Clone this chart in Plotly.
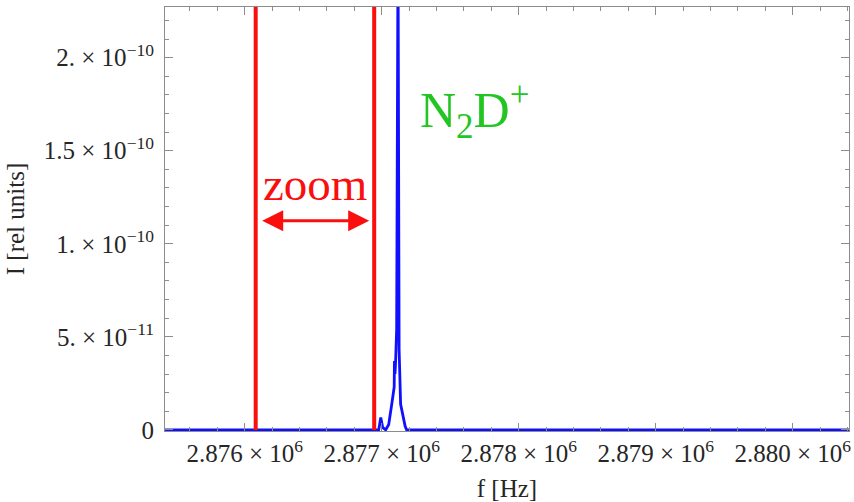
import plotly.graph_objects as go

# Spectrum of the N2D+ line (frequency in Hz, intensity in relative units)
freq = [2875300, 2876978, 2876993, 2877007, 2877029, 2877051, 2877073, 2877091,
        2877093, 2877097, 2877102, 2877109, 2877119, 2877127, 2877138, 2877149, 2877160,
        2877171, 2877182, 2880600]
intensity = [0, 0, 6.7e-12, 1.3e-12, 0, 2.9e-12, 1.37e-11, 2.3e-11,
             3.7e-11, 3.0e-11, 3.8e-11, 5.4e-11, 2.6e-10, 4.3e-11, 1.37e-11, 9.4e-12, 6.7e-12,
             1.9e-12, 0, 0]

# Edges of the zoomed frequency window
zoom_edges = [2876080, 2876945]

# Axis ticks
x_tick_vals = [2876000, 2877000, 2878000, 2879000, 2880000]
x_tick_text = ["2.876 × 10<sup>6</sup>", "2.877 × 10<sup>6</sup>", "2.878 × 10<sup>6</sup>",
               "2.879 × 10<sup>6</sup>", "2.880 × 10<sup>6</sup>"]
y_tick_vals = [0, 5e-11, 1e-10, 1.5e-10, 2e-10]
y_tick_text = ["0", "5. × 10<sup>−11</sup>", "1. × 10<sup>−10</sup>",
               "1.5 × 10<sup>−10</sup>", "2. × 10<sup>−10</sup>"]

x_range = [2875418, 2880411]
y_range = [-0.6e-12, 2.272e-10]

SERIF = "Liberation Serif"
TEXT = "#262626"
FRAME = "#8c8c8c"
RED = "#fa0f0f"
BLUE = "#1010ff"
GREEN = "#22c522"

fig = go.Figure()

fig.add_trace(go.Scatter(x=freq, y=intensity, mode="lines",
                         line=dict(color=BLUE, width=2.8), showlegend=False,
                         hoverinfo="skip"))

for edge in zoom_edges:
    fig.add_trace(go.Scatter(x=[edge, edge], y=[0, y_range[1]], mode="lines",
                             line=dict(color=RED, width=4), showlegend=False,
                             hoverinfo="skip"))

# Double-headed arrow between the window edges
arrow_y = 1.123e-10
fig.add_annotation(x=zoom_edges[1], y=arrow_y, ax=zoom_edges[0], ay=arrow_y,
                   xref="x", yref="y", axref="x", ayref="y",
                   showarrow=True, arrowhead=2, startarrowhead=2,
                   arrowside="end+start", arrowsize=1.4, startarrowsize=1.4,
                   arrowwidth=3, arrowcolor=RED, standoff=5, startstandoff=5, text="")

fig.add_annotation(x=sum(zoom_edges) / 2, y=1.32e-10, xref="x", yref="y",
                   text="zoom", showarrow=False, xanchor="center", yanchor="middle",
                   font=dict(family=SERIF, size=47, color=RED))

fig.add_annotation(x=2877676, y=1.717e-10, xref="x", yref="y",
                   text="N<sub>2</sub>D<sup>+</sup>", showarrow=False,
                   xanchor="center", yanchor="middle",
                   font=dict(family=SERIF, size=50, color=GREEN))

axis_common = dict(showline=True, linecolor=FRAME, linewidth=1, mirror="allticks",
                   ticks="inside", ticklen=8, tickcolor=FRAME, tickwidth=1,
                   showgrid=False, zeroline=False,
                   tickfont=dict(family=SERIF, size=25, color=TEXT))

fig.update_xaxes(range=x_range, tickvals=x_tick_vals, ticktext=x_tick_text,
                 minor=dict(dtick=200, tick0=2876000, ticks="inside", ticklen=4,
                            tickcolor=FRAME),
                 title=dict(text="f [Hz]", font=dict(family=SERIF, size=25, color=TEXT),
                            standoff=13),
                 **axis_common)
fig.update_yaxes(range=y_range, tickvals=y_tick_vals, ticktext=y_tick_text,
                 minor=dict(dtick=1e-11, tick0=0, ticks="inside", ticklen=4,
                            tickcolor=FRAME),
                 ticklabelstandoff=5,
                 title=dict(text="I [rel units]", font=dict(family=SERIF, size=25, color=TEXT),
                            standoff=12),
                 **axis_common)

fig.update_layout(width=854, height=502, margin=dict(l=165, r=3, t=7, b=71),
                  paper_bgcolor="white", plot_bgcolor="white",
                  font=dict(family=SERIF, color=TEXT))

fig.write_html("out.html")
